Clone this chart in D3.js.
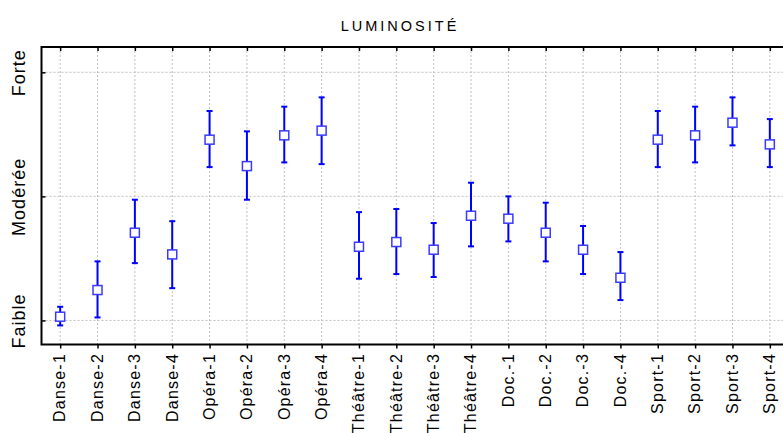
<!DOCTYPE html>
<html><head><meta charset="utf-8">
<script src="https://cdn.jsdelivr.net/npm/d3@7"></script>
<style>body{margin:0;background:#fff}svg{display:block;font-family:"Liberation Sans",Arial,sans-serif}</style>
</head><body><svg id="c" width="783" height="433"></svg>
<script>
const categories = ["Danse-1","Danse-2","Danse-3","Danse-4","Opéra-1","Opéra-2","Opéra-3","Opéra-4","Théâtre-1","Théâtre-2","Théâtre-3","Théâtre-4","Doc.-1","Doc.-2","Doc.-3","Doc.-4","Sport-1","Sport-2","Sport-3","Sport-4"];
const means = [1.03,1.245,1.707,1.532,2.457,2.244,2.492,2.53,1.594,1.632,1.57,1.844,1.82,1.707,1.57,1.344,2.457,2.492,2.594,2.419];
const upper = [1.11,1.476,1.973,1.80,2.688,2.524,2.723,2.798,1.873,1.898,1.785,2.11,2.0,1.949,1.761,1.551,2.688,2.723,2.798,2.623];
const lower = [0.96,1.024,1.462,1.26,2.236,1.973,2.274,2.26,1.336,1.374,1.35,1.597,1.637,1.476,1.374,1.164,2.236,2.274,2.411,2.236];
const yTickValues = [1,2,3];
const yTickLabels = ["Faible","Modérée","Forte"];
const title = "LUMINOSITÉ";

const svg = d3.select("#c");
const L = 41.5, T = 47, B = 344.5;
const step = 37.35;
const R = L + step * categories.length;
const x = d3.scalePoint().domain(categories).range([L + step/2, R - step/2]);
const y = d3.scaleLinear().domain([0.806, 3.204]).range([B, T]);
const FONT = "Liberation Sans, Arial, sans-serif";

// grid
const g = svg.append("g");
g.selectAll(".vg").data(categories).enter().append("line")
  .attr("x1", d => x(d)).attr("x2", d => x(d)).attr("y1", T).attr("y2", B)
  .attr("stroke", "#c0c0c0").attr("stroke-width", 1).attr("stroke-dasharray", "2,2");
g.selectAll(".hg").data(yTickValues).enter().append("line")
  .attr("x1", L).attr("x2", R).attr("y1", d => y(d)).attr("y2", d => y(d))
  .attr("stroke", "#c0c0c0").attr("stroke-width", 1).attr("stroke-dasharray", "2,2");

// axes
const xb = svg.append("g").attr("transform", `translate(0,${B})`)
  .call(d3.axisBottom(x).tickSize(4).tickSizeOuter(0).tickPadding(4));
xb.select(".domain").remove();
xb.selectAll("line").attr("stroke", "#000").attr("stroke-width", 1.5);
xb.selectAll("text").attr("transform", "rotate(-90)").attr("text-anchor", "end")
  .attr("x", -8.5).attr("y", 0).attr("dy", "0.3em")
  .style("font-size", "16px").style("letter-spacing", "1.2px").attr("fill", "#000").style("font-family", FONT);

const xt = svg.append("g").attr("transform", `translate(0,${T})`)
  .call(d3.axisTop(x).tickSize(-4).tickSizeOuter(0).tickFormat(""));
xt.select(".domain").remove();
xt.selectAll("line").attr("stroke", "#000").attr("stroke-width", 1.5);

const yl = svg.append("g").attr("transform", `translate(${L},0)`)
  .call(d3.axisLeft(y).tickValues(yTickValues).tickSize(-4).tickSizeOuter(0)
    .tickFormat((d,i) => yTickLabels[i]));
yl.select(".domain").remove();
yl.selectAll("line").attr("stroke", "#000").attr("stroke-width", 1.5);
yl.selectAll("text").attr("transform", `translate(${25 - L},0) rotate(-90)`)
  .attr("x", 0).attr("y", 0).attr("dy", "0").attr("text-anchor", "middle")
  .style("font-size", "18px").style("letter-spacing", "1px").attr("fill", "#000").style("font-family", FONT);

// frame
svg.append("rect").attr("x", L).attr("y", T).attr("width", R - L).attr("height", B - T)
  .attr("fill", "none").attr("stroke", "#000").attr("stroke-width", 2);

// error bars
const eb = svg.append("g");
categories.forEach((c, i) => {
  const cx = x(c);
  eb.append("line").attr("x1", cx).attr("x2", cx).attr("y1", y(upper[i])).attr("y2", y(lower[i]))
    .attr("stroke", "#0000ff").attr("stroke-width", 2);
  [upper[i], lower[i]].forEach(v => {
    eb.append("line").attr("x1", cx - 3).attr("x2", cx + 3).attr("y1", y(v)).attr("y2", y(v))
      .attr("stroke", "#0000ff").attr("stroke-width", 2);
  });
});
svg.append("g").selectAll("rect").data(categories).enter().append("rect")
  .attr("x", d => x(d) - 4.5).attr("y", (d,i) => y(means[i]) - 4.5)
  .attr("width", 9).attr("height", 9)
  .attr("fill", "#fff").attr("stroke", "#3a3aff").attr("stroke-width", 1.5);

svg.append("text").attr("x", 400).attr("y", 31).attr("text-anchor", "middle")
  .style("font-size", "14.5px").style("letter-spacing", "3px").attr("fill", "#000").style("font-family", FONT).text(title);
</script></body></html>
